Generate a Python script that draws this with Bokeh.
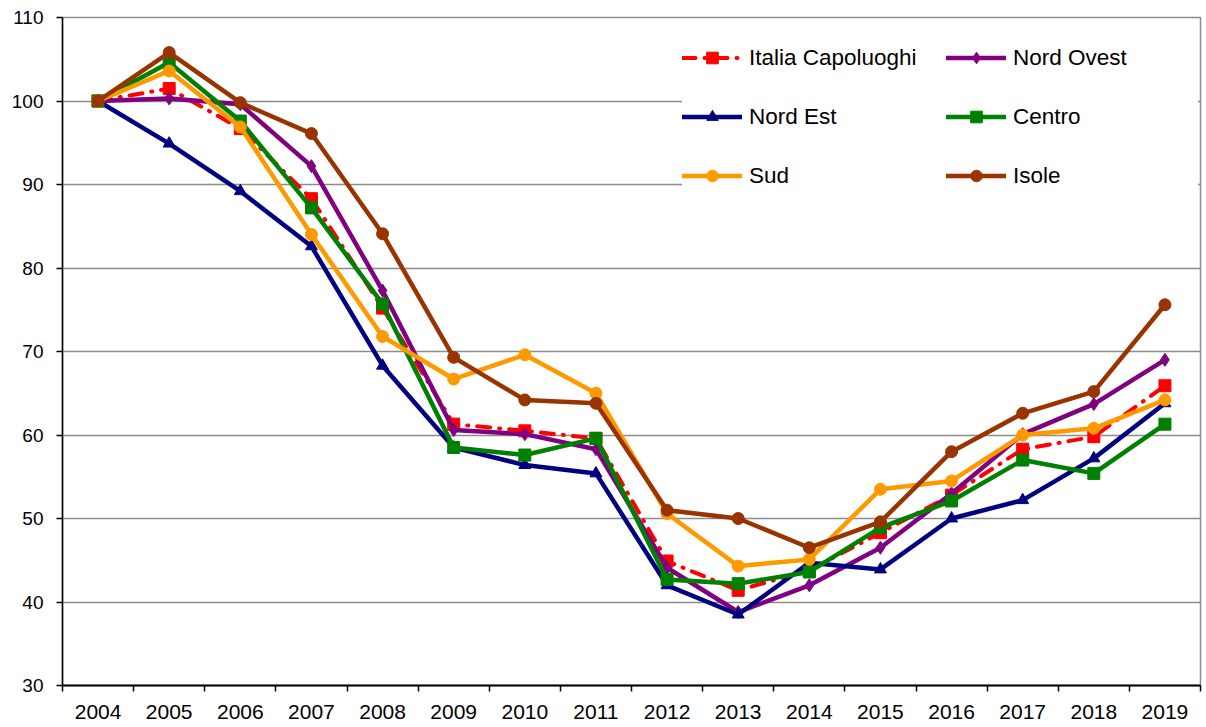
from bokeh.plotting import figure
from bokeh.models import Range1d, FixedTicker, Legend, LegendItem
from bokeh.embed import file_html
from bokeh.resources import INLINE

years = [2004, 2005, 2006, 2007, 2008, 2009, 2010, 2011, 2012, 2013, 2014, 2015, 2016, 2017, 2018, 2019]
y_ticks = [30, 40, 50, 60, 70, 80, 90, 100, 110]

italia = [100, 101.5, 96.7, 88.3, 75.2, 61.3, 60.5, 59.6, 44.9, 41.4, 43.8, 48.3, 52.8, 58.3, 59.8, 65.9]
nord_ovest = [100, 100.3, 99.6, 92.2, 77.3, 60.6, 60.1, 58.3, 44.1, 38.8, 42.0, 46.5, 53.0, 60.1, 63.7, 69.0]
nord_est = [100, 94.9, 89.2, 82.6, 68.3, 58.5, 56.4, 55.4, 42.0, 38.5, 44.7, 43.9, 50.0, 52.2, 57.2, 63.8]
centro = [100, 104.6, 97.6, 87.2, 75.7, 58.5, 57.6, 59.6, 42.7, 42.2, 43.6, 48.9, 52.1, 57.0, 55.4, 61.3]
sud = [100, 103.6, 96.9, 84.0, 71.8, 66.7, 69.6, 65.0, 50.6, 44.3, 45.1, 53.5, 54.5, 60.0, 60.8, 64.2]
isole = [100, 105.8, 99.8, 96.1, 84.1, 69.3, 64.2, 63.8, 51.0, 50.0, 46.5, 49.6, 58.0, 62.6, 65.2, 75.6]

series = [
    ("Italia Capoluoghi", italia, "#FF0000", "square", 12, "13 9 1 9"),
    ("Nord Ovest", nord_ovest, "#800080", "diamond", 13, "solid"),
    ("Nord Est", nord_est, "#000080", "triangle", 12, "solid"),
    ("Centro", centro, "#008000", "square", 12, "solid"),
    ("Sud", sud, "#FF9900", "circle", 12, "solid"),
    ("Isole", isole, "#993300", "circle", 12, "solid"),
]
# legend is filled column by column: first column Italia / Nord Est / Sud
legend_order = ["Italia Capoluoghi", "Nord Est", "Sud", "Nord Ovest", "Centro", "Isole"]

FONT = "Liberation Sans"

p = figure(width=1206, height=727, output_backend="svg", toolbar_location=None,
           x_range=Range1d(2003.5, 2019.5), y_range=Range1d(30, 110),
           min_border_left=62, min_border_right=6, min_border_top=17, min_border_bottom=42)
p.background_fill_color = "white"
p.border_fill_color = "white"
p.outline_line_color = "#8c8c8c"
p.outline_line_width = 1.5

# x axis: labels at category centres, ticks between categories
p.xaxis.ticker = FixedTicker(ticks=years, minor_ticks=[y - 0.5 for y in years] + [years[-1] + 0.5])
p.xaxis.major_label_overrides = {y: str(y) for y in years}
p.xaxis.major_tick_out = 0
p.xaxis.major_tick_in = 0
p.xaxis.minor_tick_out = 6
p.xaxis.minor_tick_in = 0
p.xaxis.minor_tick_line_color = "black"
p.xaxis.minor_tick_line_width = 1.5
p.xaxis.axis_line_color = "black"
p.xaxis.axis_line_width = 2
p.xaxis.major_label_standoff = 13
p.xaxis.major_label_text_font = FONT
p.xaxis.major_label_text_font_size = "21px"
p.xaxis.major_label_text_color = "black"

p.yaxis.ticker = FixedTicker(ticks=y_ticks, minor_ticks=[])
p.yaxis.major_tick_out = 6
p.yaxis.major_tick_in = 0
p.yaxis.major_tick_line_color = "black"
p.yaxis.major_tick_line_width = 1.5
p.yaxis.axis_line_color = "black"
p.yaxis.axis_line_width = 1.5
p.yaxis.major_label_standoff = 13
p.yaxis.major_label_text_font = FONT
p.yaxis.major_label_text_font_size = "19px"
p.yaxis.major_label_text_color = "black"

p.xgrid.visible = False
p.ygrid.ticker = FixedTicker(ticks=y_ticks)
p.ygrid.grid_line_color = "#8c8c8c"
p.ygrid.grid_line_width = 1.5

items = {}
for name, vals, color, marker, size, dash in series:
    lr = p.line(years, vals, line_color=color, line_width=4.5 if dash == "solid" else 4,
                line_dash=dash, line_cap="round", line_join="round")
    sr = p.scatter(years, vals, marker=marker, size=size, fill_color=color, line_color=color)
    items[name] = LegendItem(label=name, renderers=[lr, sr])

legend = Legend(items=[items[n] for n in legend_order], location=(620, 486), ncols=2,
                glyph_width=60, glyph_height=29, label_height=47, label_width=185,
                label_standoff=7, spacing=12, padding=14, margin=0,
                label_text_font=FONT, label_text_font_size="22.5px", label_text_color="black",
                background_fill_color="white", background_fill_alpha=1.0,
                border_line_color=None)
p.add_layout(legend)

open("out.html", "w").write(file_html(p, INLINE))
